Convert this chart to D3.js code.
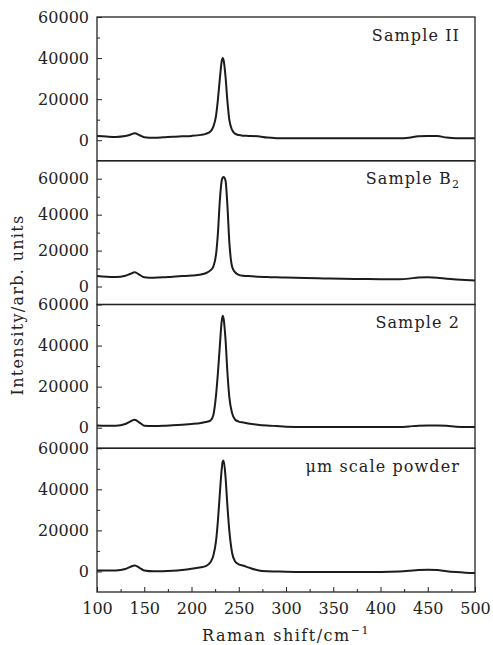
<!DOCTYPE html>
<html>
<head>
<meta charset="utf-8">
<script src="https://cdn.jsdelivr.net/npm/d3@7"></script>
<style>
  body { margin: 0; background: #fff; }
  svg { display: block; }
  text { font-family: "DejaVu Serif", serif; fill: #222; }
</style>
</head>
<body>
<div class="canvas"></div>
<script>
// raman shift (cm^-1) sample points, shared by all spectra
const shifts = [100,110,120,130,135,140,145,150,160,170,180,190,200,210,215,
  220,223,226,228,230,232,233,234,236,238,240,243,246,250,255,260,270,280,290,300,
  320,340,360,380,400,420,430,440,450,460,470,480,490,500];

const sampleII = [2100,1800,1600,2000,2700,3400,2400,1500,1200,1400,1700,1900,2100,2600,3100,
  4200,6500,12000,20000,30000,38500,40000,39000,31000,19000,10000,5000,3200,2500,2200,2100,1900,1300,1000,900,
  900,900,900,900,900,900,1200,1900,2100,2000,1300,1000,1000,1000];

const sampleB2 = [5800,5400,5300,6000,7000,7900,6500,5200,4900,5100,5500,5800,6100,6700,7400,
  9000,11000,18000,30000,48000,59000,60500,61000,59000,45000,25000,11000,8000,6500,6000,5800,5500,5300,5100,5000,
  4700,4500,4300,4200,4100,4100,4400,5000,5100,4900,4300,3900,3600,3400];

const sample2 = [1100,1000,1000,1800,3000,3900,2500,1000,800,900,1200,1500,1800,2300,2800,
  3500,6000,16000,27000,40000,52000,54500,53000,43000,27000,15000,7000,4000,3000,2500,2100,1500,1100,800,500,
  300,300,300,300,300,300,600,1000,1100,1100,900,500,300,300];

const umPowder = [500,500,500,1200,2200,2900,1800,500,100,100,300,700,1300,2100,2600,
  4500,7500,15000,25000,38000,50000,53500,54000,46000,32000,20000,9000,5000,3500,2800,2000,600,100,0,-100,
  -200,-200,-200,-200,-200,0,300,700,800,700,100,-300,-600,-800];

const panelNames = ['Sample II', 'Sample B', 'Sample 2', 'μm scale powder'];
const panelSubs = ['', '2', '', ''];
const yDomains = [[-10000, 60000], [-10000, 70000], [-10000, 60000], [-10000, 60000]];
const yMajor = [0, 20000, 40000, 60000];
const yMinor = [10000, 30000, 50000];
const xMajor = [100, 150, 200, 250, 300, 350, 400, 450, 500];
const xMinor = [125, 175, 225, 275, 325, 375, 425, 475];

const series = [sampleII, sampleB2, sample2, umPowder];

const dims = { width: 493, height: 645 };
const plot = { left: 97, right: 475, top: 17, bottom: 592 };
const panelH = (plot.bottom - plot.top) / 4;

const svg = d3.select('.canvas')
  .append('svg')
  .attr('width', dims.width)
  .attr('height', dims.height);

const x = d3.scaleLinear().domain([100, 500]).range([plot.left, plot.right]);

const line = d3.line().curve(d3.curveMonotoneX);

series.forEach((vals, i) => {
  const top = plot.top + i * panelH;
  const y = d3.scaleLinear().domain(yDomains[i]).range([top + panelH, top]);

  const g = svg.append('g');

  // minor then major y ticks, pointing inward
  const minor = g.append('g')
    .attr('transform', `translate(${plot.left},0)`)
    .call(d3.axisLeft(y).tickValues(yMinor).tickSize(-3).tickFormat(''));
  minor.select('.domain').remove();

  const major = g.append('g')
    .attr('transform', `translate(${plot.left},0)`)
    .call(d3.axisLeft(y).tickValues(yMajor).tickSize(-5).tickPadding(8).tickFormat(d3.format('d')));
  major.select('.domain').remove();
  major.attr('font-family', null).attr('font-size', 16);
  major.selectAll('line').attr('stroke', '#222');
  minor.selectAll('line').attr('stroke', '#222');

  // spectrum
  g.append('path')
    .attr('d', line(shifts.map((s, k) => [x(s), y(vals[k])])))
    .attr('fill', 'none')
    .attr('stroke', '#1c1c1c')
    .attr('stroke-width', 2)
    .attr('stroke-linejoin', 'round');

  // panel frame
  g.append('rect')
    .attr('x', plot.left)
    .attr('y', top)
    .attr('width', plot.right - plot.left)
    .attr('height', panelH)
    .attr('fill', 'none')
    .attr('stroke', '#222')
    .attr('stroke-width', 1.3);

  // sample label
  const lab = g.append('text')
    .attr('x', 460)
    .attr('y', top + 23.5)
    .attr('text-anchor', 'end')
    .attr('font-size', 16)
    .attr('letter-spacing', 1.1)
    .text(panelNames[i]);
  if (panelSubs[i]) {
    lab.append('tspan')
      .attr('font-size', 11)
      .attr('dy', 4)
      .text(panelSubs[i]);
  }
});

// bottom x axis
const xMin = svg.append('g')
  .attr('transform', `translate(0,${plot.bottom})`)
  .call(d3.axisBottom(x).tickValues(xMinor).tickSize(-3).tickFormat(''));
xMin.select('.domain').remove();

const xAx = svg.append('g')
  .attr('transform', `translate(0,${plot.bottom})`)
  .call(d3.axisBottom(x).tickValues(xMajor).tickSize(-5).tickPadding(11).tickFormat(d3.format('d')));
xAx.select('.domain').remove();
xAx.attr('font-family', null).attr('font-size', 16);
svg.selectAll('.tick line').attr('stroke', '#222');

// axis titles
const xt = svg.append('text')
  .attr('x', 286)
  .attr('y', 641)
  .attr('text-anchor', 'middle')
  .attr('font-size', 16)
  .attr('letter-spacing', 1.5)
  .text('Raman shift/cm');
xt.append('tspan')
  .attr('font-size', 11)
  .attr('dy', -7)
  .text('−1');

svg.append('text')
  .attr('transform', 'translate(23,305) rotate(-90)')
  .attr('text-anchor', 'middle')
  .attr('font-size', 16)
  .attr('letter-spacing', 1.3)
  .text('Intensity/arb. units');
</script>
</body>
</html>
